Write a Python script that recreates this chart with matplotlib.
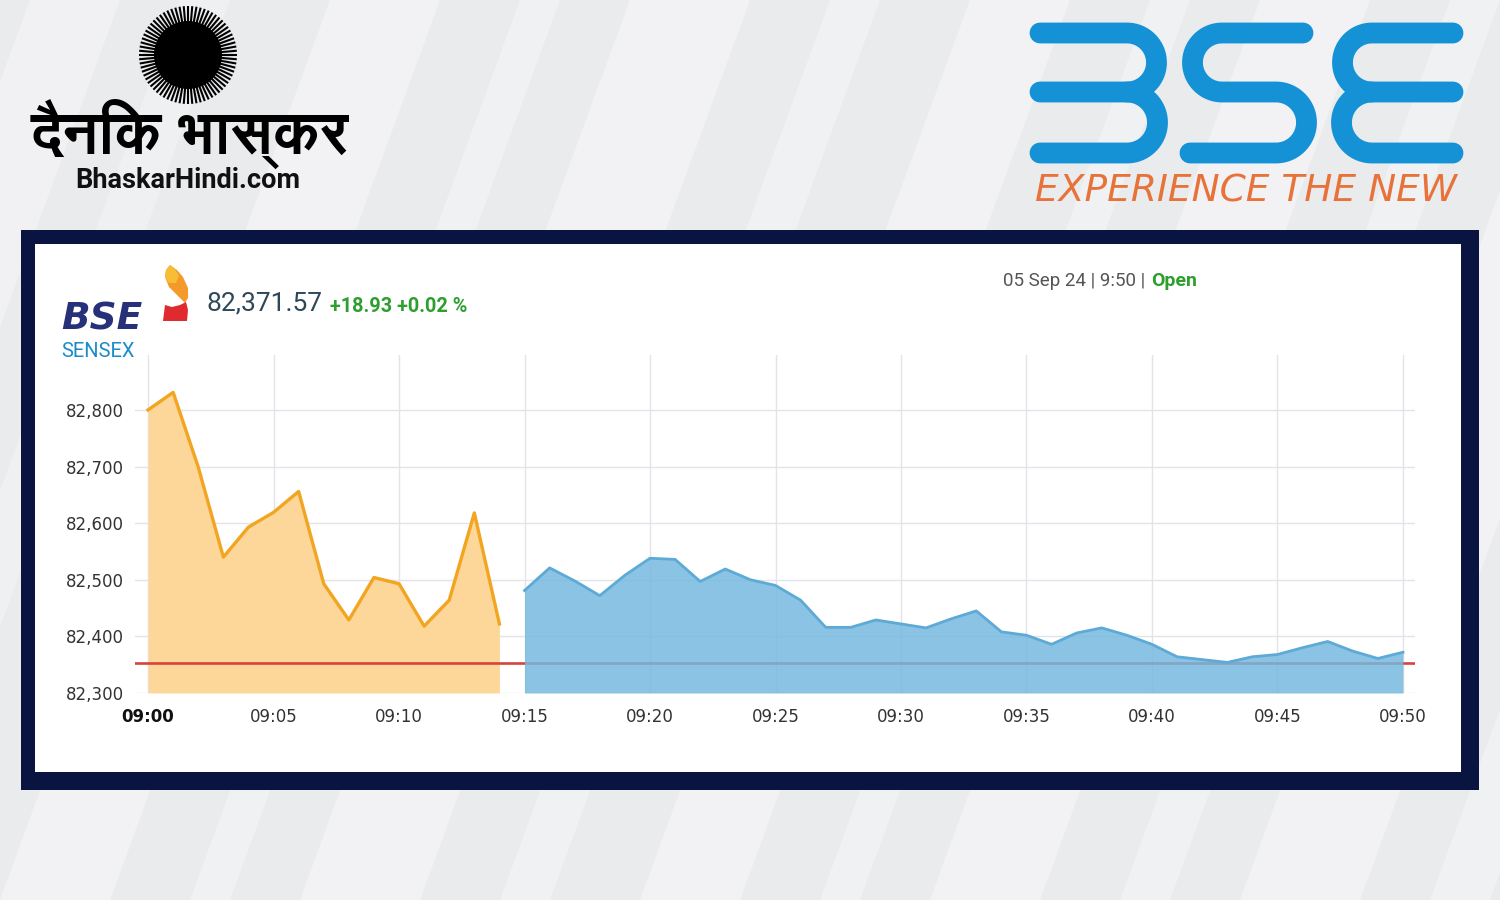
import matplotlib
matplotlib.use("Agg")
import matplotlib.pyplot as plt
import numpy as np
from matplotlib import font_manager
from matplotlib.patches import Rectangle, Polygon, Circle

# sensex intraday 05 Sep 24, one reading per minute from 09:00
orange_vals = [82800, 82831, 82699, 82540, 82593, 82619, 82656, 82493,
               82429, 82504, 82493, 82418, 82464, 82618, 82422]
blue_vals = [82481, 82521, 82498, 82472, 82508, 82538, 82536, 82497, 82519,
             82500, 82490, 82464, 82416, 82416, 82429, 82422, 82415, 82431,
             82445, 82408, 82402, 82386, 82406, 82415, 82402, 82386, 82364,
             82359, 82354, 82364, 82368, 82380, 82391, 82374, 82361, 82372]
prev_close = 82352.64

y_ticks = [82300, 82400, 82500, 82600, 82700, 82800]
x_ticks = [0, 5, 10, 15, 20, 25, 30, 35, 40, 45, 50]
x_tick_labels = ["09:00", "09:05", "09:10", "09:15", "09:20", "09:25",
                 "09:30", "09:35", "09:40", "09:45", "09:50"]

last_price = "82,371.57"
change_txt = "+18.93 +0.02 %"
date_txt = "05 Sep 24 | 9:50 |"
status_txt = "Open"

orange_x = np.arange(len(orange_vals))
blue_x = np.arange(len(blue_vals)) + len(orange_vals)

# a font that can draw devanagari, if there is one
deva = []
for f in font_manager.fontManager.ttflist:
    if any(k in f.name for k in ("Devanagari", "Lohit", "FreeSans", "Mukta", "Gargi", "Kalimati")):
        if f.name not in deva:
            deva.append(f.name)
hindi_family = deva + ["DejaVu Sans"]

W, H = 1500, 900
fig = plt.figure(figsize=(15, 9), dpi=100)
fig.patch.set_facecolor("#eaebed")

# full figure overlay in pixel coords for the decoration
bg = fig.add_axes([0, 0, 1, 1], zorder=0)
bg.set_xlim(0, W)
bg.set_ylim(H, 0)
bg.axis("off")

# soft diagonal streaks of the backdrop
for x0, w, a in [(-300, 90, 0.35), (-150, 50, 0.25), (0, 110, 0.4), (190, 40, 0.3),
                 (300, 120, 0.4), (500, 50, 0.3), (640, 100, 0.4), (820, 40, 0.3),
                 (930, 110, 0.4), (1120, 50, 0.3), (1240, 120, 0.4), (1430, 60, 0.3)]:
    bg.add_patch(Polygon([(x0, H), (x0 + w, H), (x0 + w + 330, 0), (x0 + 330, 0)],
                         closed=True, facecolor="white", edgecolor="none", alpha=a, zorder=0))

# dark frame round the chart
bg.add_patch(Rectangle((21, 230), 1458, 560, facecolor="#0a1441", edgecolor="none", zorder=1))
bg.add_patch(Rectangle((35, 244), 1426, 528, facecolor="white", edgecolor="none", zorder=2))

# dainik bhaskar sun
bg.add_patch(Circle((188, 55), 34, facecolor="black", edgecolor="none", zorder=3))
for ang in np.linspace(0, 2 * np.pi, 72, endpoint=False):
    bg.plot([188 + 30 * np.cos(ang), 188 + 49 * np.cos(ang)],
            [55 + 30 * np.sin(ang), 55 + 49 * np.sin(ang)],
            color="black", lw=1.5, solid_capstyle="butt", zorder=3)
bg.text(190, 134, "दैनिक भास्कर", family=hindi_family, fontsize=43, fontweight="heavy",
        color="black", ha="center", va="center", zorder=3)
bg.text(188, 180, "BhaskarHindi.com", family="Roboto", fontsize=19.5, fontweight="bold",
        color="#111111", ha="center", va="center", zorder=3)

# bse logo drawn as thick rounded strokes
blue_logo = "#1591d6"


def arc(cx, cy, r, t0, t1):
    t = np.radians(np.linspace(t0, t1, 40))
    return list(zip(cx + r * np.cos(t), cy + r * np.sin(t)))


strokes = [
    [(1040, 33)] + arc(1127, 62.5, 29.5, -90, 90) + [(1040, 92)],
    arc(1127, 122.5, 30.5, -90, 90) + [(1040, 153)],
    [(1303, 33)] + arc(1222, 62.5, 29.5, 270, 90) + arc(1276, 122.5, 30.5, -90, 90) + [(1190, 153)],
    [(1453, 33)] + arc(1372, 62.5, 29.5, 270, 90) + [(1453, 92)],
    arc(1372, 122.5, 30.5, 270, 90) + [(1453, 153)],
]
for s in strokes:
    xs, ys = zip(*s)
    bg.plot(xs, ys, color=blue_logo, lw=15, solid_capstyle="round",
            solid_joinstyle="round", zorder=3)
bg.text(1246, 192, "EXPERIENCE THE NEW", family="DejaVu Sans", style="oblique",
        fontsize=27, color="#e8733a", ha="center", va="center", zorder=3)

# header inside the frame
bg.text(61, 329, "BSE", family="DejaVu Sans", fontsize=27, fontweight="bold",
        style="oblique", color="#27317a", ha="left", va="baseline", zorder=3)
bg.text(61, 357, "SENSEX", family="Roboto", fontsize=14.5, color="#1a8cc8",
        ha="left", va="baseline", zorder=3)
bg.add_patch(Polygon([(170, 265), (177, 270), (183, 277), (188, 288), (188, 298),
                      (185, 303), (182, 300), (177, 295), (169, 287), (165, 277), (166, 270)],
                     closed=True, facecolor="#f49a2a", edgecolor="none", zorder=3))
bg.add_patch(Polygon([(170, 265), (175, 269), (179, 276), (176, 283), (169, 283),
                      (165, 277), (166, 270)],
                     closed=True, facecolor="#f8bd36", edgecolor="none", zorder=3))
bg.add_patch(Polygon([(165, 305), (172, 307), (180, 305), (186, 302), (188, 310),
                      (187, 321), (163, 321), (164, 313)],
                     closed=True, facecolor="#df2a2f", edgecolor="none", zorder=3))
bg.text(206, 304, last_price, family="Roboto", fontsize=19, color="#2f4858",
        ha="left", va="center", zorder=3)
bg.text(330, 306, change_txt, family="Roboto", fontsize=14.3, fontweight="bold",
        color="#2e9e2e", ha="left", va="center", zorder=3)
bg.text(1003, 281, date_txt, family="Roboto", fontsize=13.5, color="#555555",
        ha="left", va="center", zorder=3)
bg.text(1151, 281, status_txt, family="Roboto", fontsize=14, fontweight="bold",
        color="#2e9e2e", ha="left", va="center", zorder=3)

# the chart itself
ax = fig.add_axes([135 / W, 1 - 693 / H, (1415 - 135) / W, (693 - 355) / H], zorder=1)
ax.set_facecolor("none")
base = y_ticks[0]
ax.fill_between(orange_x, orange_vals, base, color="#fdd799", lw=0, zorder=1)
ax.plot(orange_x, orange_vals, color="#f2a521", lw=2.4, zorder=4)
ax.axhline(prev_close, color="#d8443a", lw=1.9, zorder=2)
ax.fill_between(blue_x, blue_vals, base, color="#74b8de", alpha=0.84, lw=0, zorder=3)
ax.plot(blue_x, blue_vals, color="#5eaad6", lw=2.0, zorder=4)

ax.set_xlim(-0.52, 50.48)
ax.set_ylim(base, 82897)
ax.set_xticks(x_ticks)
ax.set_xticklabels(x_tick_labels)
ax.set_yticks(y_ticks)
ax.set_yticklabels([f"{v:,}" for v in y_ticks])
ax.tick_params(length=0, labelsize=12, labelcolor="#333333")
ax.tick_params(axis="x", pad=10.5)
ax.tick_params(axis="y", pad=8)
ax.get_xticklabels()[0].set_fontweight("bold")
ax.get_xticklabels()[0].set_color("#111111")
ax.grid(True, color="#e3e3ea", lw=1, zorder=0)
ax.set_axisbelow(True)
for sp in ax.spines.values():
    sp.set_visible(False)

fig.savefig("out.png", dpi=100)
